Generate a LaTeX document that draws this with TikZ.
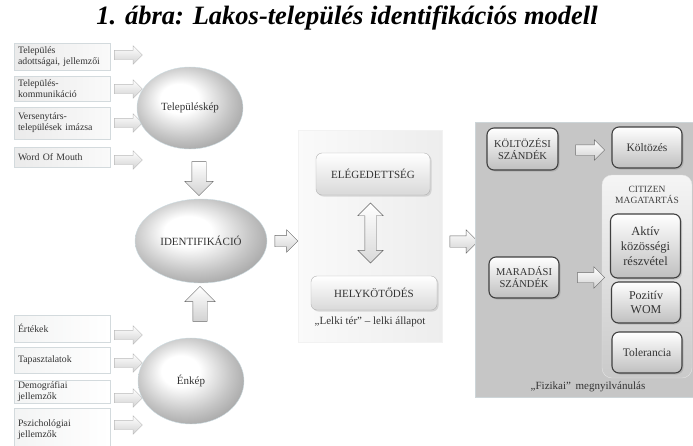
\documentclass[tikz,border=0pt]{standalone}
\usepackage{fontspec}
\setmainfont{Liberation Serif}
\usetikzlibrary{shapes.geometric, shapes.arrows, shadows}

\pgfdeclareradialshading{blobshade}{\pgfpoint{-6bp}{7bp}}{%
  color(0bp)=(white); color(9bp)=(white); color(22bp)=(gray!45);
  color(30bp)=(gray!70); color(50bp)=(gray!70)}

\tikzset{
  srcbox/.style={draw=cyan!15!gray!35, left color=gray!16, right color=gray!4,
    text width=88pt, inner xsep=4pt, inner ysep=1pt, align=left, text=black!80,
    font=\fontsize{9.8}{10.8}\selectfont,
    drop shadow={shadow xshift=1.2pt, shadow yshift=-1.2pt, opacity=.2}},
  srcboxb/.style={srcbox, left color=cyan!4!gray!9, right color=white},
  blob/.style={ellipse, draw=cyan!30!gray!35, shading=blobshade,
    text=black!80, font=\fontsize{11}{13}\selectfont},
  blockarr/.style n args={3}{single arrow, minimum height=#1, inner ysep=#2,
    single arrow head extend=#3, inner xsep=0pt, draw=gray!70,
    top color=white, bottom color=gray!35},
  statebox/.style={rounded corners=6pt, draw=gray!60, top color=white, bottom color=gray!30,
    text=black!80, font=\fontsize{11}{13}\selectfont,
    drop shadow={shadow xshift=1.5pt, shadow yshift=-1.5pt, opacity=.25}},
  actbox/.style={rounded corners=7pt, draw=black!75, line width=1.1pt,
    top color=white, bottom color=gray!50, align=center, text=black!80,
    font=\fontsize{11.5}{13.5}\selectfont,
    drop shadow={shadow xshift=1.5pt, shadow yshift=-1.5pt, opacity=.3}}
}

\begin{document}
\begin{tikzpicture}[x=1pt, y=-1pt]
  \useasboundingbox (0,0) rectangle (693,445);

  \node[font=\fontsize{26.5}{30}\selectfont\bfseries\itshape] (title) at (347,18)
    {1. ábra: Lakos-település identifikációs modell};

  % inputs of the town image
  \node[srcbox, minimum width=96, minimum height=27] (adott) at (62,56.5) {Település\\adottságai, jellemzői};
  \node[srcbox, minimum width=96, minimum height=25] (komm) at (62,88.5) {Település-\\kommunikáció};
  \node[srcbox, minimum width=96, minimum height=32] (verseny) at (62,123) {Versenytárs-\\települések imázsa};
  \node[srcbox, minimum width=96, minimum height=20] (wom) at (62,157) {Word Of Mouth};
  \foreach \y/\n in {55/1, 89/2, 123/3, 160/4}
    \node[blockarr={28}{4.5pt}{4.5pt}, draw=gray!55] (ta\n) at (126,\y) {};

  % inputs of the self image
  \node[srcboxb, minimum width=96, minimum height=27] (ertek) at (62,328.5) {Értékek};
  \node[srcboxb, minimum width=96, minimum height=26] (tapasz) at (62,360) {Tapasztalatok};
  \node[srcboxb, minimum width=96, minimum height=23] (demo) at (62,391.5) {Demográfiai\\jellemzők};
  \node[srcboxb, minimum width=96, minimum height=44] (pszich) at (62,430) {Pszichológiai\\jellemzők\\[12pt]};
  \foreach \y/\n in {335/1, 363/2, 398/3, 425/4}
    \node[blockarr={28}{4.5pt}{4.5pt}, draw=gray!55] (ba\n) at (126,\y) {};

  % the three ellipses
  \node[blob, minimum width=106, minimum height=82] (kep) at (190,108) {Településkép};
  \node[blob, minimum width=132, minimum height=84] (ident) at (201,241) {IDENTIFIKÁCIÓ};
  \node[blob, minimum width=106, minimum height=86] (enkep) at (191,381) {Énkép};
  \node[blockarr={34}{7pt}{7pt}, rotate=-90, draw=black!60] (down) at (199,175) {};
  \node[blockarr={35}{7pt}{8pt}, rotate=90, draw=black!60] (up) at (200,307.5) {};
  \node[blockarr={23}{5.5pt}{5.5pt}, draw=black!60] (toLelki) at (283.5,241) {};

  % "lelki ter" panel
  \node[left color=gray!4, right color=gray!14, draw=gray!10, minimum width=144,
    minimum height=212, inner sep=0pt] (lelki) at (370,236) {};
  \node[statebox, minimum width=114, minimum height=42] (eleg) at (373,174) {ELÉGEDETTSÉG};
  \node[statebox, minimum width=126, minimum height=34] (hely) at (374,293) {HELYKÖTŐDÉS};
  \node[double arrow, rotate=90, minimum height=60, inner ysep=5.5pt, inner xsep=0pt,
    double arrow head extend=7pt, draw=black!60, top color=white, bottom color=gray!30]
    (kolcson) at (370.5,233) {};
  \node[font=\fontsize{11}{13}\selectfont, text=black!80] (lelkilab) at (370,322)
    {„Lelki tér” – lelki állapot};
  \node[blockarr={28}{5.5pt}{6pt}, draw=black!60] (toFiz) at (461,241.5) {};

  % "fizikai" panel
  \node[fill=gray!45, draw=cyan!15!gray!40, minimum width=222, minimum height=275,
    inner sep=0pt] (fizikai) at (586,259.5) {};
  \node[rounded corners=10pt, draw=gray!20, top color=gray!8, bottom color=gray!42,
    minimum width=90, minimum height=203, inner sep=0pt] (citizen) at (647,276.5) {};
  \node[align=center, text=black!75, font=\fontsize{9.5}{11}\selectfont] (citlab) at (647,195)
    {CITIZEN\\MAGATARTÁS};

  \node[actbox, minimum width=71, minimum height=42, font=\fontsize{10.5}{12}\selectfont]
    (koltszand) at (522.5,149) {KÖLTÖZÉSI\\SZÁNDÉK};
  \node[actbox, minimum width=70, minimum height=41] (koltozes) at (647,147.5) {Költözés};
  \node[actbox, minimum width=70, minimum height=41, font=\fontsize{10.5}{12}\selectfont]
    (maradszand) at (524,277.5) {MARADÁSI\\SZÁNDÉK};
  \node[actbox, minimum width=70, minimum height=64, font=\fontsize{12.5}{15}\selectfont]
    (aktiv) at (645.5,246) {Aktív\\közösségi\\részvétel};
  \node[actbox, minimum width=69, minimum height=41, font=\fontsize{12}{14}\selectfont]
    (pozitiv) at (646,302.5) {Pozitív\\WOM};
  \node[actbox, minimum width=70, minimum height=41] (toler) at (647,352.5) {Tolerancia};
  \node[blockarr={29}{5pt}{5pt}, draw=black!60] (ka) at (587.5,150) {};
  \node[blockarr={27}{5pt}{5.5pt}, draw=black!60] (ma) at (588.5,277.5) {};
  \node[font=\fontsize{11}{13}\selectfont, text=black!80] (fizlab) at (588,387)
    {„Fizikai”\, megnyilvánulás};
\end{tikzpicture}
\end{document}
